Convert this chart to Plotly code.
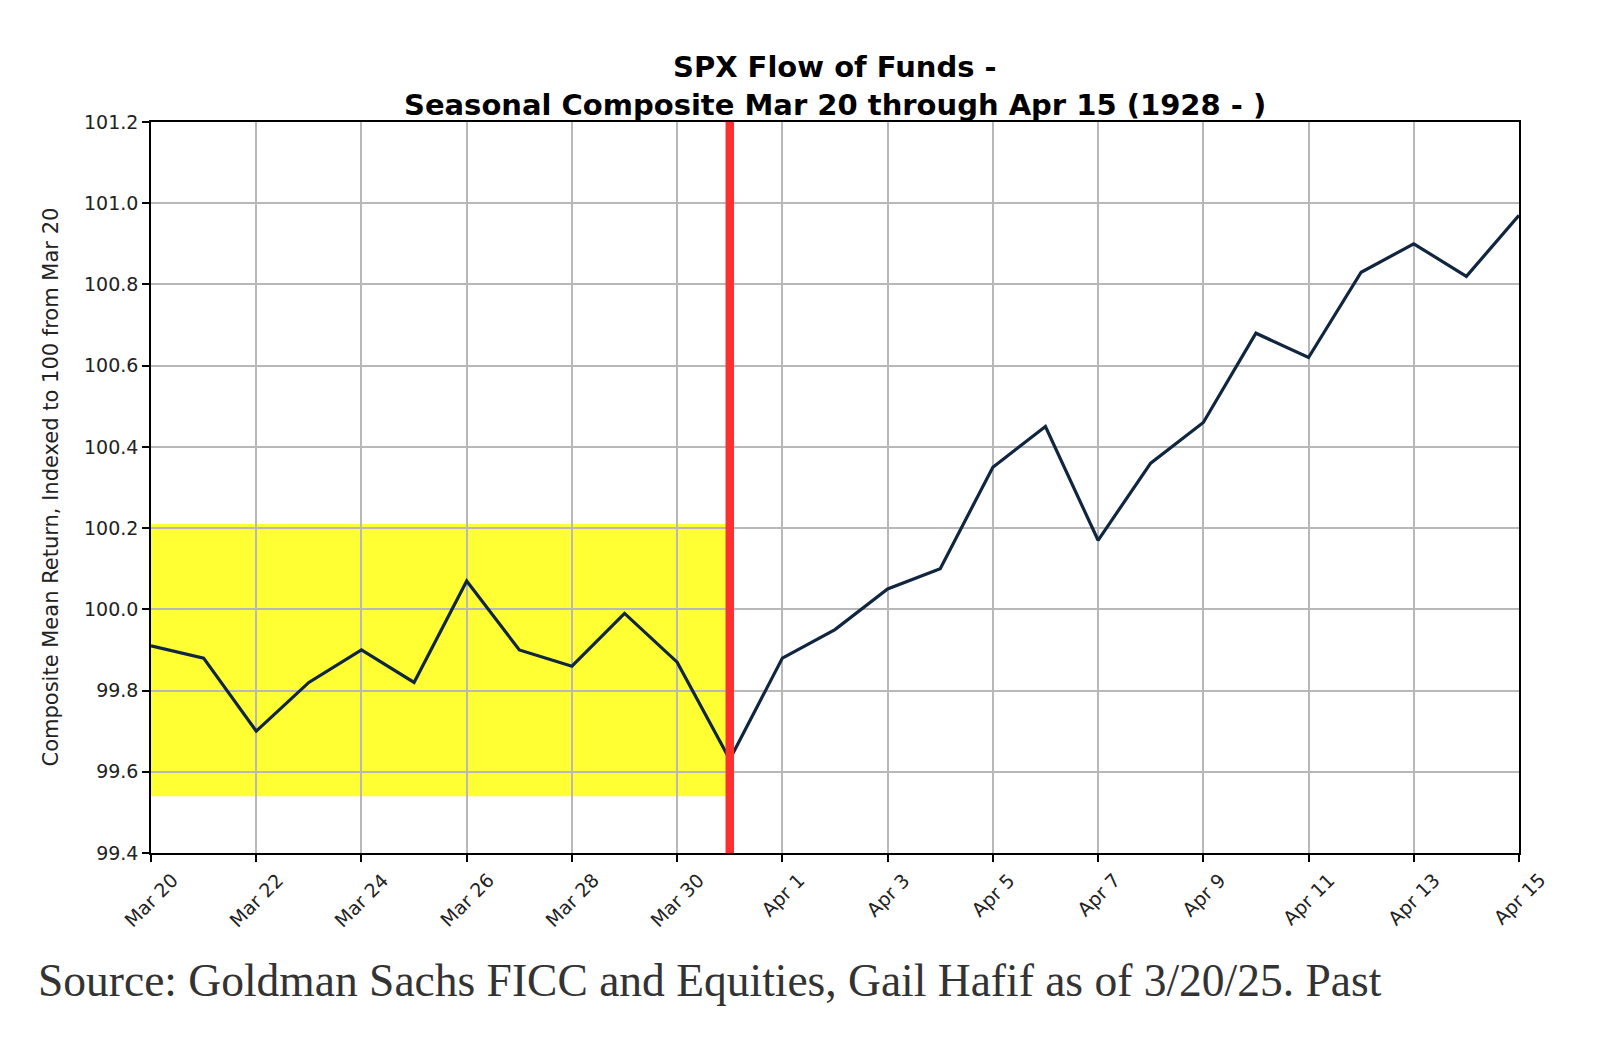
import plotly.graph_objects as go

dates = ["Mar 20", "Mar 21", "Mar 22", "Mar 23", "Mar 24", "Mar 25", "Mar 26", "Mar 27",
         "Mar 28", "Mar 29", "Mar 30", "Mar 31", "Apr 1", "Apr 2", "Apr 3", "Apr 4",
         "Apr 5", "Apr 6", "Apr 7", "Apr 8", "Apr 9", "Apr 10", "Apr 11", "Apr 12",
         "Apr 13", "Apr 14", "Apr 15"]
values = [99.91, 99.88, 99.70, 99.82, 99.90, 99.82, 100.07, 99.90,
          99.86, 99.99, 99.87, 99.63, 99.88, 99.95, 100.05, 100.10,
          100.35, 100.45, 100.17, 100.36, 100.46, 100.68, 100.62, 100.83,
          100.90, 100.82, 100.97]
tick_labels = ["Mar 20", "Mar 22", "Mar 24", "Mar 26", "Mar 28", "Mar 30", "Apr 1",
               "Apr 3", "Apr 5", "Apr 7", "Apr 9", "Apr 11", "Apr 13", "Apr 15"]
y_ticks = [99.4, 99.6, 99.8, 100.0, 100.2, 100.4, 100.6, 100.8, 101.0, 101.2]
highlight_y = [99.54, 100.21]
highlight_end = 10.93
marker_day = "Mar 31"
title_lines = ["SPX Flow of Funds -", "Seasonal Composite Mar 20 through Apr 15 (1928 - )"]
y_title = "Composite Mean Return, Indexed to 100 from Mar 20"
source_text = "Source: Goldman Sachs FICC and Equities, Gail Hafif as of 3/20/25. Past"

x_idx = list(range(len(dates)))
tick_pos = [dates.index(t) for t in tick_labels]
marker_x = dates.index(marker_day)

# figure size (page body adds an 8px margin)
W, H = 1604, 1040
L, R, T, B = 143, 1511, 114, 845


def py(yfig):
    return (B - yfig) / (B - T)


def px(xfig):
    return (xfig - L) / (R - L)


fig = go.Figure()
fig.add_shape(type="rect", xref="x", yref="y", x0=0, x1=highlight_end,
              y0=highlight_y[0], y1=highlight_y[1],
              fillcolor="#ffff33", line_width=0, layer="below")
fig.add_trace(go.Scatter(x=x_idx, y=values, mode="lines",
                         line=dict(color="#0f2540", width=3.2),
                         hoverinfo="skip", showlegend=False))
fig.add_shape(type="line", xref="x", yref="paper", x0=marker_x, x1=marker_x,
              y0=0, y1=1, line=dict(color="#ff3030", width=8.5))

axis_font = dict(family="DejaVu Sans", size=19, color="#222222")
fig.update_layout(
    width=W, height=H,
    margin=dict(l=L, r=W - R, t=T, b=H - B, autoexpand=False),
    paper_bgcolor="white", plot_bgcolor="white",
    font=dict(family="DejaVu Sans", color="#111111"),
    xaxis=dict(range=[0, len(dates) - 1], tickmode="array", tickvals=tick_pos,
               showticklabels=False,
               showgrid=True, gridcolor="#b8b8b8", gridwidth=1.5,
               ticks="outside", ticklen=7, tickwidth=1.5, tickcolor="#000",
               showline=True, linecolor="#000", linewidth=1.5, mirror=True,
               zeroline=False, automargin=False),
    yaxis=dict(range=[99.4, 101.2], tickmode="array", tickvals=y_ticks,
               ticktext=[f"{v:.1f}" for v in y_ticks], tickfont=axis_font,
               showgrid=True, gridcolor="#b8b8b8", gridwidth=1.5,
               ticks="outside", ticklen=7, tickwidth=1.5, tickcolor="#000",
               showline=True, linecolor="#000", linewidth=1.5, mirror=True,
               zeroline=False, automargin=False),
)

# title lines
for txt, yc in zip(title_lines, [59, 97]):
    fig.add_annotation(text=f"<b>{txt}</b>", xref="paper", yref="paper",
                       x=0.5, y=py(yc), xanchor="center", yanchor="middle",
                       showarrow=False,
                       font=dict(family="DejaVu Sans", size=29, color="#000000"))

# y-axis title
fig.add_annotation(text=y_title, xref="paper", yref="paper", x=px(42), y=0.5,
                   xanchor="center", yanchor="middle", textangle=-90, showarrow=False,
                   font=dict(family="DejaVu Sans", size=21, color="#222222"))

# rotated x tick labels (centred under each tick, like matplotlib)
for pos, lab in zip(tick_pos, tick_labels):
    fig.add_annotation(text=lab, xref="x", yref="paper", x=pos, y=py(858),
                       xanchor="center", yanchor="top", textangle=-45,
                       showarrow=False, font=axis_font)

fig.add_annotation(text=source_text, xref="paper", yref="paper",
                   x=px(28), y=py(1000), xanchor="left", yanchor="bottom",
                   showarrow=False,
                   font=dict(family="Liberation Serif", size=45.5, color="#333333"))

fig.write_html("out.html")
